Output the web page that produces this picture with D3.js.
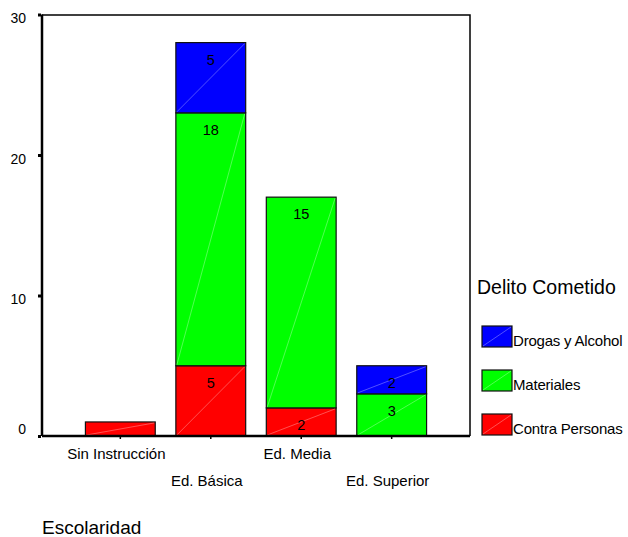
<!DOCTYPE html>
<html><head><meta charset="utf-8">
<script src="https://cdn.jsdelivr.net/npm/d3@7"></script>
<style>
html,body{margin:0;padding:0;background:#fff;}
text{font-family:"Liberation Sans",Arial,sans-serif;fill:#000;}
</style></head>
<body>
<svg id="chart" width="628" height="537"></svg>
<script>
const categories = ["Sin Instrucción", "Ed. Básica", "Ed. Media", "Ed. Superior"];
const contraPersonas = [1, 5, 2, 0];
const materiales = [0, 18, 15, 3];
const drogasAlcohol = [0, 5, 0, 2];
const seriesNames = ["Contra Personas", "Materiales", "Drogas y Alcohol"];
const seriesColors = ["#ff0000", "#00ff00", "#0000ff"];
const yTicks = [0, 10, 20, 30];
const xTitle = "Escolaridad";
const legendTitle = "Delito Cometido";

const svg = d3.select("#chart");
const mLeft = 42, mRight = 470, mTop = 14.5, mBottom = 436;

const x = d3.scaleBand().domain(categories).range([mLeft, mRight]).paddingInner(0.228).paddingOuter(0.48);
const y = d3.scaleLinear().domain([0, 30]).range([mBottom, mTop]);

const table = categories.map((c, i) => ({cat: c, "Contra Personas": contraPersonas[i], "Materiales": materiales[i], "Drogas y Alcohol": drogasAlcohol[i]}));
const stacked = d3.stack().keys(seriesNames)(table);

// frame (top and right)
svg.append("path")
  .attr("d", `M${mLeft},${y(30)+0.5}H${mRight}V${mBottom}`)
  .attr("fill", "none").attr("stroke", "#000").attr("stroke-width", 1.5);

// bars
const segs = [];
stacked.forEach((s, si) => {
  s.forEach((d, i) => {
    if (d[1] - d[0] > 0) segs.push({si, cat: categories[i], y0: d[0], y1: d[1], v: d[1] - d[0]});
  });
});
const g = svg.append("g");
g.selectAll("rect.seg").data(segs).join("rect")
  .attr("class", "seg")
  .attr("x", d => x(d.cat))
  .attr("y", d => y(d.y1))
  .attr("width", x.bandwidth())
  .attr("height", d => y(d.y0) - y(d.y1))
  .attr("fill", d => seriesColors[d.si])
  .attr("stroke", "#111").attr("stroke-width", 1.2);
g.selectAll("line.diag").data(segs).join("line")
  .attr("class", "diag")
  .attr("x1", d => x(d.cat) + 1).attr("y1", d => y(d.y0) - 1)
  .attr("x2", d => x(d.cat) + x.bandwidth() - 1).attr("y2", d => y(d.y1) + 1)
  .attr("stroke", "#fff").attr("stroke-opacity", 0.45).attr("stroke-width", 0.7);
g.selectAll("text.val").data(segs.filter(d => d.v > 1)).join("text")
  .attr("class", "val")
  .attr("x", d => x(d.cat) + x.bandwidth() / 2)
  .attr("y", d => y(d.y1) + 22)
  .attr("text-anchor", "middle")
  .attr("font-size", "14.5px")
  .text(d => d.v);

// y axis
const yAxis = svg.append("g").attr("transform", `translate(${mLeft},0)`)
  .call(d3.axisLeft(y).tickValues(yTicks).tickSize(4).tickPadding(12).tickFormat(d3.format("d")));
yAxis.select(".domain").attr("stroke", "#000").attr("stroke-width", 2.5).attr("d", `M0,${y(30)}V${mBottom}`);
yAxis.selectAll(".tick line").attr("stroke", "#000").attr("stroke-width", 3).attr("x1", -1);
yAxis.selectAll(".tick text")
  .attr("font-size", "14px").attr("font-family", "Liberation Sans, Arial, sans-serif")
  .attr("dy", null)
  .attr("y", d => Math.min(8, mBottom - 3 - y(d)));

// x axis
const xAxis = svg.append("g").attr("transform", `translate(0,${mBottom})`)
  .call(d3.axisBottom(x).tickSize(3).tickPadding(0));
xAxis.select(".domain").attr("stroke", "#000").attr("stroke-width", 2.5).attr("d", `M${mLeft},0H${mRight}`);
xAxis.selectAll(".tick line").attr("stroke", "#000").attr("stroke-width", 1.5);
xAxis.selectAll(".tick text")
  .attr("font-size", "15px").attr("font-family", "Liberation Sans, Arial, sans-serif")
  .attr("dy", null)
  .attr("x", -4)
  .attr("y", (d, i) => i % 2 === 0 ? 22.5 : 50);

// x title
svg.append("text").attr("x", 42).attr("y", 534).attr("font-size", "19px").text(xTitle);

// legend
svg.append("text").attr("x", 477).attr("y", 294).attr("font-size", "19.5px").text(legendTitle);
const legendOrder = [2, 1, 0];
const lg = svg.append("g").selectAll("g").data(legendOrder).join("g")
  .attr("transform", (d, i) => `translate(482,${326 + i * 44})`);
lg.append("rect").attr("width", 30).attr("height", 21)
  .attr("fill", d => seriesColors[d]).attr("stroke", "#111").attr("stroke-width", 1.2);
lg.append("line").attr("x1", 1).attr("y1", 20).attr("x2", 29).attr("y2", 1)
  .attr("stroke", "#fff").attr("stroke-opacity", 0.45).attr("stroke-width", 0.7);
lg.append("text").attr("x", 31).attr("y", 20).attr("font-size", "15px")
  .attr("letter-spacing", "-0.2px")
  .text(d => seriesNames[d]);
</script>
</body></html>
